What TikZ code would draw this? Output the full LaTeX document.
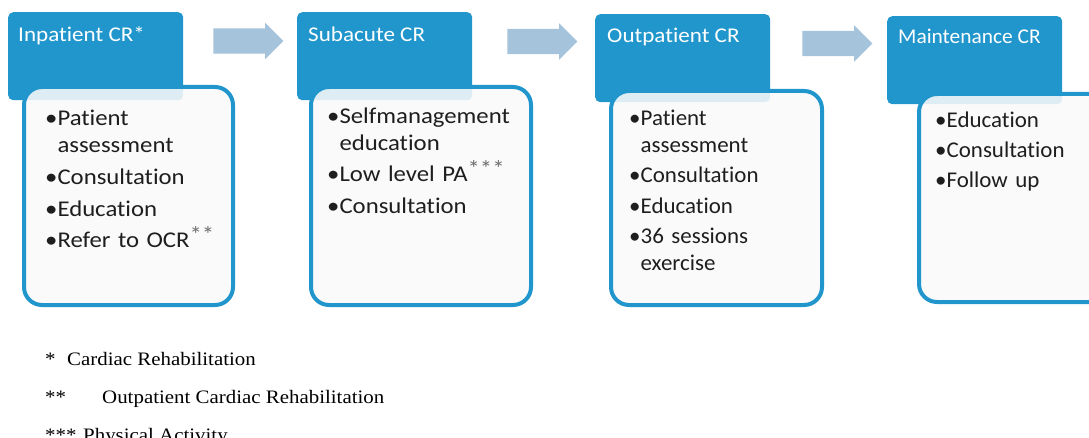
\documentclass[tikz,border=0pt]{standalone}
\usepackage{fontspec}
\setmainfont{Carlito}
\newfontfamily\cardfont{Carlito}[FakeStretch=1.1,Ligatures=NoCommon]
\newfontfamily\narrowfont{Carlito}[FakeStretch=1.02,Ligatures=NoCommon]
\newfontfamily\notefont{Liberation Serif}[FakeStretch=1.1]
\usetikzlibrary{shapes.arrows}

\definecolor{crblue}{HTML}{2196CC}
\definecolor{crarrow}{HTML}{A6C3DC}
\definecolor{crcard}{HTML}{F9F9F9}
\definecolor{crtext}{HTML}{1E1E1E}

% raised footnote marks
\newcommand{\crmark}[1]{\raisebox{5pt}{\textcolor{crtext!65}{#1}}}

\begin{document}
\begin{tikzpicture}[x=1pt,y=-1pt,
		stagehead/.style={fill=crblue,rounded corners=5pt,anchor=north west,inner sep=0pt,minimum width=175pt,minimum height=88pt},
		stagecard/.style={draw=crblue,line width=4pt,fill=crcard,fill opacity=.88,rounded corners=18pt,anchor=north west,inner sep=0pt},
		headtext/.style={anchor=base west,inner sep=0pt,text=white,font=\cardfont\fontsize{21}{25}\selectfont},
		itemtext/.style={anchor=base west,inner sep=0pt,text=crtext,text width=200pt,align=left,font=\cardfont\fontsize{22.5}{27}\selectfont},
		narrow/.style={font=\narrowfont\fontsize{#1}{27}\selectfont},
		notetext/.style={anchor=base west,inner sep=0pt,font=\notefont\fontsize{19}{23}\selectfont},
		flowarrow/.style={single arrow,fill=crarrow,inner sep=12.5pt,minimum height=70pt,single arrow head extend=5.5pt}]
	\useasboundingbox (0,0) rectangle (1089,438);
	% the four stages: blue header tab with a rounded card on top
	\foreach \n/\hx/\hy/\cx/\cy/\cw/\ch in {1/8/12/22/85/209/218,2/297/12/309/85/220/218,3/595/14/609/89/211/214,4/887/16/917/92/190/208}
	{
		\node[stagehead] (h\n) at (\hx,\hy) {};
		\node[stagecard,minimum width=\cw pt,minimum height=\ch pt] (c\n) at (\cx,\cy) {};
	}
	\node[headtext] (t1) at ([shift={(10,30)}]h1.north west) {Inpatient CR*};
	\node[headtext] (t2) at ([shift={(11,30)}]h2.north west) {Subacute CR};
	\node[headtext] (t3) at ([shift={(12,29)}]h3.north west) {Outpatient CR};
	\node[headtext,narrow=21] (t4) at ([shift={(11,28)}]h4.north west) {Maintenance CR};
	% bullet lists
	\node[itemtext] (l1) at ([shift={(23,41)}]c1.north west) {•Patient\\ \hphantom{•}assessment\\[5pt] •Consultation\\[5pt] •Education\\[4pt] •Refer to OCR\crmark{**}};
	\node[itemtext] (l2) at ([shift={(18,39)}]c2.north west) {•Selfmanagement\\ \hphantom{•}education\\[4pt] •Low level PA\crmark{***}\\[5pt] •Consultation};
	\node[itemtext,narrow=22.5] (l3) at ([shift={(20,37)}]c3.north west) {•Patient\\ \hphantom{•}assessment\\[3pt] •Consultation\\[4pt] •Education\\[3pt] •36 sessions\\ \hphantom{•}exercise};
	\node[itemtext,narrow=22.5] (l4) at ([shift={(18,36)}]c4.north west) {•Education\\[3pt] •Consultation\\[3pt] •Follow up};
	% arrows between the stages
	\node[flowarrow] (a1) at (242,41) {};
	\node[flowarrow] (a2) at (536,41.5) {};
	\node[flowarrow] (a3) at (831,43.5) {};
	% footnotes
	\node[notetext] (s1) at (45,365) {*};
	\node[notetext] (n1) at (67,365) {Cardiac Rehabilitation};
	\node[notetext] (s2) at (45,403) {**};
	\node[notetext] (n2) at (102,403) {Outpatient Cardiac Rehabilitation};
	\node[notetext] (s3) at (45,441) {***};
	\node[notetext] (n3) at (83,441) {Physical Activity};
\end{tikzpicture}
\end{document}
